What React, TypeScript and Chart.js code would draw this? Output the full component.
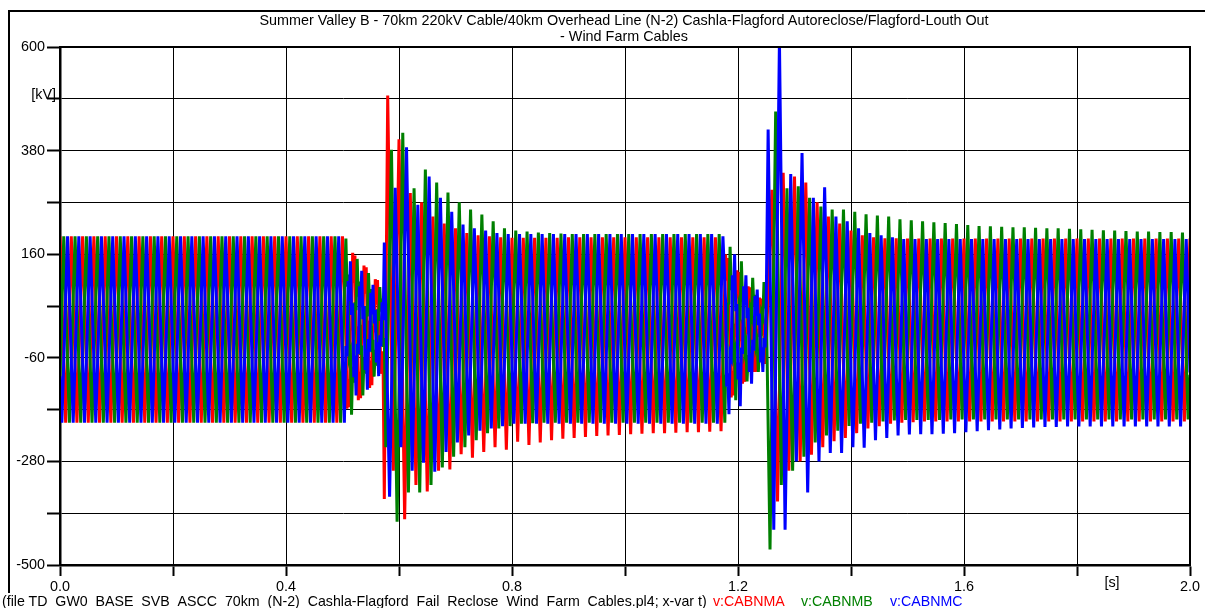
import React, { useEffect, useRef } from "react";
import { Chart, registerables } from "chart.js";

Chart.register(...registerables);

// ---- data (kV) ----
// Main arrays: one extremum per half cycle of the 50 Hz waveform.
// null = that half cycle lies inside a fault window, described by the detail arrays below.
const HALF_CYCLE_S = 0.01;
const T_END_S = 2.0;
const OFFSET_A_S = 0;
const OFFSET_B_S = 1 / 150;
const OFFSET_C_S = 1 / 300;

// fault windows, sampled every 2 ms
const DETAIL_STEP_S = 0.002;
const FAULT1_START_S = 0.506;
const FAULT2_START_S = 1.178;

// v:CABNMA (red), extremum k at t = k * 10 ms
const peaksA = [
  198, -198, 198, -198, 198, -198, 198, -198, 198, -198,
  198, -198, 198, -198, 198, -198, 198, -198, 198, -198,
  198, -198, 198, -198, 198, -198, 198, -198, 198, -198,
  198, -198, 198, -198, 198, -198, 198, -198, 198, -198,
  198, -198, 198, -198, 198, -198, 198, -198, 198, -198,
  198,
  null, null, null, null, null, null, null,
  497, -300, 404, -403, 290, -330, 270, -344, 240, -300, 225, -297, 215, -265, 205, -272,
  200, -260, 198, -250, 196, -255, 195, -238, 195, -245, 195, -240, 195, -235, 195, -232, 196, -230,
  196, -228, 196, -226, 196, -225, 196, -224, 196, -222, 196, -221, 196, -220,
  196, -220, 196, -219, 196, -218, 196, -218, 196, -217, 196, -216,
  null, null, null, null, null, null, null, null,
  297, -365, 333, -300, 325, -280, 312, -266, 270, -250, 240, -237, 225, -230, 210, -220, 200, -210, 196, -205,
  194, -200, 194, -198, 193, -197,
  193, -195, 193, -195, 193, -195, 193, -195, 193, -195, 193, -195, 193, -195, 193, -195,
  193, -195, 193, -195, 193, -195, 193, -195, 193, -195, 193, -195, 193, -195, 193, -195,
  193, -195, 193, -195, 193, -195, 193, -195, 193, -195, 193, -195, 193, -195, 193, -195,
  193,
];
const fault1A = [
  -2, -168, -105, -165, -1, 1, 163, 99, 157, -3, 0, -150, -90, -146, 2, -2, 136, 76,
  132, -5, 4, -124, -66, -118, 8, -6, 107, 53, 105, -9, 4, -94, -46, -92, -360,
];
const fault2A = [
  160, 104, 152, 0, 0, -144, -88, -140, 2, -4, 126, 66, 122, -8, 3, -115, -61, -111, 5,
  -10, 92, 40, 90, -10, 2, -90, -44, -90, 0, -16, 68, 20, 66, -13, 1, -73, -35,
];

// v:CABNMB (green), extremum k at t = 6.67 ms + k * 10 ms
const startB = -99;
const peaksB = [
  198, -198, 198, -198, 198, -198, 198, -198, 198, -198,
  198, -198, 198, -198, 198, -198, 198, -198, 198, -198,
  198, -198, 198, -198, 198, -198, 198, -198, 198, -198,
  198, -198, 198, -198, 198, -198, 198, -198, 198, -198,
  198, -198, 198, -198, 198, -198, 198, -198, 198, -198,
  null, null, null, null, null, null, null,
  -250, 382, -408, 418, -346, 300, -346, 340, -330, 312, -293, 291, -270, 270, -250, 255,
  -235, 244, -220, 230, -210, 215, -205, 210, -200, 208,
  -199, 206, -198, 205, -198, 204,
  -198, 203, -198, 203, -198, 203, -198, 203, -198, 203, -198, 203, -198, 203,
  -198, 203, -198, 203, -198, 203, -198, 203, -198, 203, -198, 203, -198, 203,
  -198, null, null, null, null, null, null, null,
  -467, 463, -330, 300, -300, 304, -270, 280, -240, 261, -225, 255, -215, 255, -205, 250,
  -200, 245, -198, 242, -195, 240,
  -193, 234, -192, 232, -192, 230, -192, 228, -192, 226, -191, 224, -191, 222, -191, 220,
  -191, 219, -191, 218, -191, 217, -191, 217, -191, 216, -191, 215, -191, 215, -191, 214,
  -191, 213, -191, 212, -191, 211, -191, 210, -191, 209, -191, 208, -191, 208, -191, 207,
  -191, 207, -191, 206, -191,
];
const endB = -96;
const fault1B = [
  193, 91, 117, -59, -49, -181, -79, -113, 58, 41, 150, 70, 102, -54, -34, -140, -60, -94,
  50, 28, 120, 52, 86, -48, -22, -100, -43, -77, 43, 18, 90, 38, 66, -37, -18,
];
const fault2B = [
  -96, -116, 54, 56, 176, 84, 108, -54, -44, -150, -70, -96, 49, 38, 145, 65, 89, -45, -33,
  -110, -54, -78, 41, 30, 110, 50, 74, -36, -26, -90, -42, -64, 35, 27, 101, 45, 63,
];

// v:CABNMC (blue), extremum k at t = 3.33 ms + k * 10 ms
const startC = -99;
const peaksC = [
  -198, 198, -198, 198, -198, 198, -198, 198, -198, 198,
  -198, 198, -198, 198, -198, 198, -198, 198, -198, 198,
  -198, 198, -198, 198, -198, 198, -198, 198, -198, 198,
  -198, 198, -198, 198, -198, 198, -198, 198, -198, 198,
  -198, 198, -198, 198, -198, 198, -198, 198, -198, 198,
  -198,
  null, null, null, null, null, null, null,
  -355, 301, -250, 387, -300, 265, -283, 325, -302, 280, -260, 250, -240, 223, -225,
  215, -215, 210, -210, 205, -205,
  203, -200, 203, -200, 203, -200, 203, -200, 203, -200, 203, -200, 203, -200, 203, -200,
  203, -200, 203, -200, 203, -200, 203, -200, 203, -200, 203, -200, 203, -200, 203, -200,
  203, -200, 203, -200, 203, -200,
  198, null, null, null, null, null, null, null,
  425, -425, 615, -425, 330, -280, 375, -346, 280, -280, 302, -262, 240, -262, 230, -250,
  215, -251, 205, -235, 200, -230, 196, -225,
  192, -223, 192, -222, 192, -222, 192, -221, 192, -220, 192, -218, 192, -216, 192, -214,
  192, -212, 192, -210, 192, -209, 192, -208, 192, -207, 192, -207, 192, -206,
  192, -206, 192, -206, 192, -206, 192, -206, 192, -206, 192, -206, 192, -206, 192, -206,
  192, -206, 192, -206, 192,
];
const endC = -91;
const fault1C = [
  -35, -57, 103, 61, 145, 31, 56, -101, -55, -140, -30, -52, 92, 48, 125, 22, 50, -86,
  -42, -128, -20, -47, 78, 32, 95, 13, 42, -70, -27, -99, -12, -36, 58, 20, 185,
];
const fault2C = [
  60, -121, -93, -180, -51, -59, 115, 79, 160, 39, 54, -106, -70, -163, -38, -52, 92, 52,
  115, 24, 46, -90, -50, -115, -22, -45, 71, 29, 85, 9, 34, -70, -38, -90, -18, -38, 62,
];

// ---- axes ----
const yGridValues = [-500, -390, -280, -170, -60, 50, 160, 270, 380, 490, 600];
const yTickLabels: Record<string, string> = {
  "600": "600",
  "380": "380",
  "160": "160",
  "-60": "-60",
  "-280": "-280",
  "-500": "-500",
};
const xGridValues = [0, 0.2, 0.4, 0.6, 0.8, 1.0, 1.2, 1.4, 1.6, 1.8, 2.0];
const xTickLabels: Record<string, string> = {
  "0": "0.0",
  "0.4": "0.4",
  "0.8": "0.8",
  "1.2": "1.2",
  "1.6": "1.6",
  "2": "2.0",
};

const titleLines = [
  "Summer Valley B - 70km 220kV Cable/40km Overhead Line (N-2) Cashla-Flagford Autoreclose/Flagford-Louth Out",
  "- Wind Farm Cables",
];
const fileCaption =
  "(file TD_GW0_BASE_SVB_ASCC_70km_(N-2)_Cashla-Flagford_Fail_Reclose_Wind_Farm_Cables.pl4; x-var t)";
const seriesNames = ["v:CABNMA", "v:CABNMB", "v:CABNMC"];
const seriesColors = ["#ff0000", "#008000", "#0000ff"];
const yUnit = "[kV]";
const xUnit = "[s]";

const FONT = "'Liberation Sans', Arial, sans-serif";
const AXIS_FONT_PX = 14.4;

type Pt = { x: number; y: number };

function buildPoints(
  values: (number | null)[],
  offset: number,
  details: { start: number; values: number[] }[],
  start?: number,
  end?: number
) {
  const pts: Pt[] = [];
  if (start !== undefined) pts.push({ x: 0, y: start });
  values.forEach((v, k) => {
    if (v !== null) pts.push({ x: offset + k * HALF_CYCLE_S, y: v });
  });
  details.forEach((d) => d.values.forEach((v, j) => pts.push({ x: d.start + j * DETAIL_STEP_S, y: v })));
  if (end !== undefined) pts.push({ x: T_END_S, y: end });
  pts.sort((a, b) => a.x - b.x);
  return pts;
}

const frameBorderPlugin = {
  id: "frameBorder",
  afterDraw(chart: any) {
    const { ctx, chartArea } = chart;
    ctx.save();
    ctx.strokeStyle = "#000";
    ctx.lineWidth = 2;
    ctx.strokeRect(chartArea.left, chartArea.top, chartArea.right - chartArea.left, chartArea.bottom - chartArea.top);
    ctx.restore();
  },
};

export default function App() {
  const canvasRef = useRef<HTMLCanvasElement | null>(null);

  useEffect(() => {
    if (!canvasRef.current) return;
    const series = [
      buildPoints(peaksA, OFFSET_A_S, [
        { start: FAULT1_START_S, values: fault1A },
        { start: FAULT2_START_S, values: fault2A },
      ]),
      buildPoints(
        peaksB,
        OFFSET_B_S,
        [
          { start: FAULT1_START_S, values: fault1B },
          { start: FAULT2_START_S, values: fault2B },
        ],
        startB,
        endB
      ),
      buildPoints(
        peaksC,
        OFFSET_C_S,
        [
          { start: FAULT1_START_S, values: fault1C },
          { start: FAULT2_START_S, values: fault2C },
        ],
        startC,
        endC
      ),
    ];
    const chart = new Chart(canvasRef.current, {
      type: "line",
      data: {
        datasets: series.map((pts, i) => ({
          label: seriesNames[i],
          data: pts,
          borderColor: seriesColors[i],
          backgroundColor: seriesColors[i],
          borderWidth: 3,
          pointRadius: 0,
          tension: 0,
          fill: false,
          order: 3 - i,
        })),
      },
      options: {
        responsive: false,
        maintainAspectRatio: false,
        animation: false,
        layout: { padding: { left: 0, right: 15, top: 47, bottom: 0 } },
        plugins: {
          legend: { display: false },
          tooltip: { enabled: false },
          title: { display: false },
        },
        scales: {
          x: {
            type: "linear",
            min: 0,
            max: 2,
            afterBuildTicks: (axis: any) => {
              axis.ticks = xGridValues.map((v) => ({ value: v }));
            },
            afterFit: (axis: any) => {
              axis.height = 43;
            },
            grid: {
              color: "#000",
              lineWidth: 1,
              tickLength: 11,
              tickColor: "#000",
              tickWidth: 2,
            },
            border: { color: "#000", width: 2.5 },
            ticks: {
              autoSkip: false,
              maxRotation: 0,
              padding: 2,
              color: "#000",
              font: { family: FONT, size: AXIS_FONT_PX },
              callback: (v: any) => {
                const key = String(Math.round(Number(v) * 10) / 10);
                return xTickLabels[key] ?? "";
              },
            },
          },
          y: {
            type: "linear",
            min: -500,
            max: 600,
            afterBuildTicks: (axis: any) => {
              axis.ticks = yGridValues.map((v) => ({ value: v }));
            },
            afterFit: (axis: any) => {
              axis.width = 60;
            },
            grid: {
              color: "#000",
              lineWidth: 1,
              tickLength: 13,
              tickColor: "#000",
              tickWidth: 2,
            },
            border: { color: "#000", width: 2.5 },
            ticks: {
              autoSkip: false,
              padding: 2,
              color: "#000",
              font: { family: FONT, size: AXIS_FONT_PX },
              callback: (v: any) => yTickLabels[String(Math.round(Number(v)))] ?? "",
            },
          },
        },
      },
      plugins: [frameBorderPlugin],
    } as any);
    return () => chart.destroy();
  }, []);

  const text: React.CSSProperties = {
    position: "absolute",
    fontFamily: FONT,
    fontSize: 14.4,
    lineHeight: "16px",
    color: "#000",
    whiteSpace: "nowrap",
  };
  const caption: React.CSSProperties = { ...text, fontSize: 14.2, top: 593 };

  return (
    <div
      style={{
        position: "absolute",
        left: 0,
        top: 0,
        width: 1205,
        height: 608,
        overflow: "hidden",
        background: "#fff",
      }}
    >
      <div
        style={{
          position: "absolute",
          left: 8,
          top: 10,
          width: 1300,
          height: 583,
          borderTop: "2px solid #000",
          borderLeft: "2px solid #000",
          boxSizing: "border-box",
        }}
      />
      <canvas ref={canvasRef} width={1205} height={608} style={{ position: "absolute", left: 0, top: 0 }} />
      <div style={{ ...text, left: 624, top: 12, transform: "translateX(-50%)", textAlign: "center" }}>
        {titleLines[0]}
      </div>
      <div style={{ ...text, left: 624, top: 28, transform: "translateX(-50%)", textAlign: "center" }}>
        {titleLines[1]}
      </div>
      <div style={{ ...text, left: 0, width: 56, top: 86, textAlign: "right" }}>{yUnit}</div>
      <div style={{ ...text, left: 1112, top: 574, transform: "translateX(-50%)" }}>{xUnit}</div>
      <div style={{ ...caption, left: 2 }}>{fileCaption}</div>
      <div style={{ ...caption, left: 713, color: seriesColors[0] }}>{seriesNames[0]}</div>
      <div style={{ ...caption, left: 801, color: seriesColors[1] }}>{seriesNames[1]}</div>
      <div style={{ ...caption, left: 890, color: seriesColors[2] }}>{seriesNames[2]}</div>
    </div>
  );
}
